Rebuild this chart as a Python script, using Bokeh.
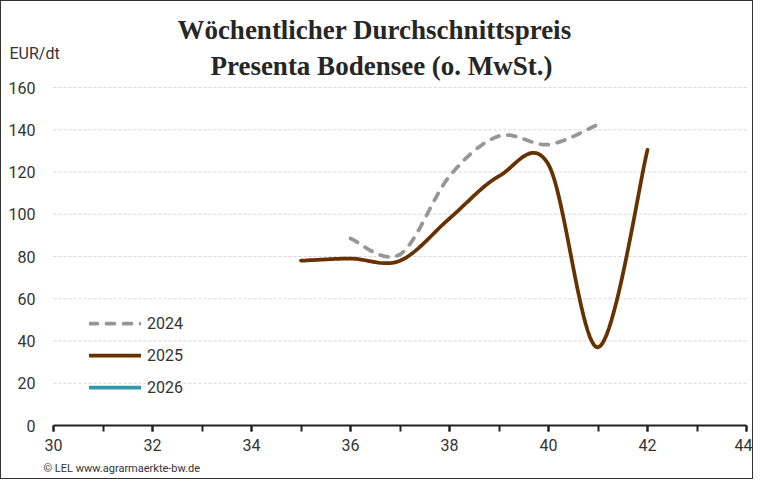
import math
from bokeh.plotting import figure
from bokeh.models import (Range1d, SingleIntervalTicker, FixedTicker, Label, Legend,
                          LegendItem, ColumnDataSource)
from bokeh.embed import file_html
from bokeh.resources import INLINE

# ---- data ----
weeks_2024 = [36, 37, 38, 39, 40, 41]
price_2024 = [88.5, 81, 118, 137, 133, 142.5]
weeks_2025 = [35, 36, 37, 38, 39, 40, 41, 42]
price_2025 = [78, 79, 78, 98, 118, 123.5, 37, 130.5]
weeks_2026 = []
price_2026 = []
series_names = ["2024", "2025", "2026"]
y_ticks = [0, 20, 40, 60, 80, 100, 120, 140, 160]
title_lines = ["Wöchentlicher Durchschnittspreis", "Presenta Bodensee (o. MwSt.)"]
unit_label = "EUR/dt"
footer = "© LEL www.agrarmaerkte-bw.de"

# ---- layout (pixels) ----
W, H = 753, 479
X0, X1 = 30, 44            # axis extent (weeks)
PX_X0, PX_X1 = 52, 745     # pixel position of X0 / X1
PX_Y0, PX_Y160 = 424, 86   # pixel position of 0 / 160
sx = (PX_X1 - PX_X0) / (X1 - X0)
sy = (PX_Y0 - PX_Y160) / 160.0


def dx(px):
    return X0 + (px - PX_X0) / sx


def dy(py):
    return (PX_Y0 - py) / sy


def smooth(xs, ys, n=24):
    """Excel-like smoothed line (Catmull-Rom Bezier through the data points)."""
    if len(xs) < 2:
        return list(xs), list(ys)
    ox, oy = [], []
    m = len(xs)
    for i in range(m - 1):
        p0 = (xs[i - 1], ys[i - 1]) if i > 0 else (xs[i], ys[i])
        p1 = (xs[i], ys[i])
        p2 = (xs[i + 1], ys[i + 1])
        p3 = (xs[i + 2], ys[i + 2]) if i + 2 < m else (xs[i + 1], ys[i + 1])
        c1 = (p1[0] + (p2[0] - p0[0]) / 6, p1[1] + (p2[1] - p0[1]) / 6)
        c2 = (p2[0] - (p3[0] - p1[0]) / 6, p2[1] - (p3[1] - p1[1]) / 6)
        for k in range(n + (1 if i == m - 2 else 0)):
            t = k / n
            a = (1 - t) ** 3
            b = 3 * (1 - t) ** 2 * t
            c = 3 * (1 - t) * t ** 2
            d = t ** 3
            ox.append(a * p1[0] + b * c1[0] + c * c2[0] + d * p2[0])
            oy.append(a * p1[1] + b * c1[1] + c * c2[1] + d * p2[1])
    return ox, oy


p = figure(width=W, height=H, output_backend="svg", toolbar_location=None,
           x_range=Range1d(dx(0), dx(W)), y_range=Range1d(dy(H), dy(0)),
           min_border=0)
p.outline_line_color = None
p.background_fill_color = "white"
p.border_fill_color = "white"
p.styles = {"border": "1px solid #333333", "box-sizing": "border-box"}

TXT = "#333333"
# grid lines (only across the axis extent)
p.xgrid.grid_line_color = None
p.ygrid.grid_line_color = None
grid_vals = y_ticks[1:]
p.segment(x0=[X0] * len(grid_vals), x1=[X1] * len(grid_vals), y0=grid_vals,
          y1=grid_vals, line_color="#d6d6d6", line_dash="3 2", line_width=1)

# x axis
xa = p.xaxis[0]
xa.fixed_location = 0
xa.bounds = (X0, X1)
xa.ticker = SingleIntervalTicker(interval=2, num_minor_ticks=2)
xa.axis_line_color = "#222222"
xa.axis_line_width = 2
xa.major_tick_line_color = "#222222"
xa.minor_tick_line_color = "#222222"
xa.major_tick_line_width = 2
xa.minor_tick_line_width = 2
xa.major_tick_in = 0
xa.major_tick_out = 6
xa.minor_tick_in = 0
xa.minor_tick_out = 6
xa.major_label_standoff = 7
xa.major_label_text_font = "Roboto"
xa.major_label_text_font_size = "16px"
xa.major_label_text_color = TXT

# y axis
ya = p.yaxis[0]
ya.fixed_location = X0
ya.bounds = (0, 160)
ya.ticker = FixedTicker(ticks=y_ticks)
ya.axis_line_color = None
ya.major_tick_line_color = None
ya.minor_tick_line_color = None
ya.major_tick_out = 0
ya.major_tick_in = 0
ya.major_label_standoff = 18
ya.major_label_text_font = "Roboto"
ya.major_label_text_font_size = "16px"
ya.major_label_text_color = TXT

# lines
x24, y24 = smooth(weeks_2024, price_2024)
r24 = p.line(x24, y24, line_color="#969696", line_width=3.75, line_dash="8 9",
             line_cap="round")
x25, y25 = smooth(weeks_2025, price_2025)
r25 = p.line(x25, y25, line_color="#663300", line_width=3.75, line_cap="round",
             line_join="round")
src26 = ColumnDataSource(dict(x=weeks_2026 or [math.nan], y=price_2026 or [math.nan]))
r26 = p.line(x="x", y="y", source=src26, line_color="#3399aa", line_width=3.75,
             line_cap="round")

legend = Legend(items=[LegendItem(label=series_names[0], renderers=[r24]),
                       LegendItem(label=series_names[1], renderers=[r25]),
                       LegendItem(label=series_names[2], renderers=[r26])],
                location=(88, H - 396), glyph_width=52, glyph_height=20,
                label_height=20, spacing=12, padding=0, margin=0,
                label_standoff=6, border_line_color=None, background_fill_alpha=0,
                label_text_font="Roboto", label_text_font_size="16px",
                label_text_color=TXT, label_text_baseline="middle")
p.add_layout(legend, "center")

# title & texts
p.add_layout(Label(x=dx(373), y=dy(28), text=title_lines[0], text_align="center",
                   text_baseline="middle", text_font="Liberation Serif",
                   text_font_style="bold", text_font_size="27px", text_color="#262626"))
p.add_layout(Label(x=dx(380), y=dy(64), text=title_lines[1], text_align="center",
                   text_baseline="middle", text_font="Liberation Serif",
                   text_font_style="bold", text_font_size="27px", text_color="#262626"))
p.add_layout(Label(x=dx(8), y=dy(52), text=unit_label, text_align="left",
                   text_baseline="middle", text_font="Roboto",
                   text_font_size="16px", text_color=TXT))
p.add_layout(Label(x=dx(42), y=dy(467), text=footer, text_align="left",
                   text_baseline="middle", text_font="Roboto",
                   text_font_size="11px", text_color=TXT))

open("out.html", "w").write(file_html(p, INLINE))
